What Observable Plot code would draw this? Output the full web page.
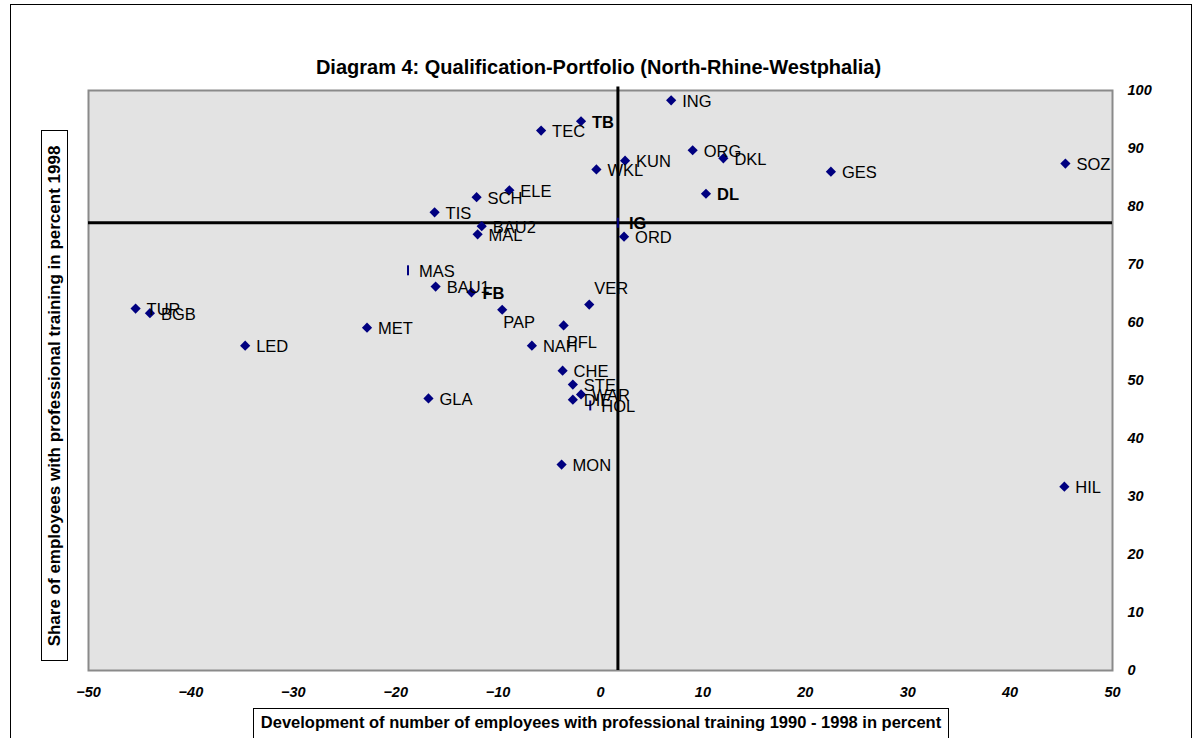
<!DOCTYPE html>
<html>
<head>
<meta charset="utf-8">
<script src="https://cdn.jsdelivr.net/npm/d3@7"></script>
<script src="https://cdn.jsdelivr.net/npm/@observablehq/plot@0.6"></script>
<style>
  body { margin: 0; background: #fff; font-family: "Liberation Sans", Arial, sans-serif; }
  #wrap { position: relative; width: 1197px; height: 738px; overflow: hidden; background: #fff; }
  #border { position: absolute; left: 10px; top: 4px; width: 1182px; height: 760px; border: 1px solid #000; box-sizing: border-box; }
  #chart { position: absolute; left: 0; top: 0; }
  #title { position: absolute; left: 0; top: 56px; width: 1197px; text-align: center; font-weight: bold; font-size: 20px; color: #000; }
  #ylab { position: absolute; left: 41px; top: 130px; width: 27px; height: 531px; border: 1px solid #000; background: #fff; box-sizing: border-box; }
  #ylab span { position: absolute; left: 50%; top: 50%; transform: translate(-50%, -50%) rotate(-90deg); white-space: nowrap; font-weight: bold; font-size: 17px; }
  #xlab { position: absolute; left: 253px; top: 708px; width: 696px; height: 50px; border: 1px solid #000; background: #fff; box-sizing: border-box; text-align: center; font-weight: bold; font-size: 16.5px; line-height: 27px; }
</style>
</head>
<body>
<div id="wrap">
  <div id="border"></div>
  <div id="chart"></div>
  <div id="title">Diagram 4: Qualification-Portfolio (North-Rhine-Westphalia)</div>
  <div id="ylab"><span>Share of employees with professional training in percent 1998</span></div>
  <div id="xlab">Development of number of employees with professional training 1990 - 1998 in percent</div>
</div>
<script>
// ---- data ----
const codes  = ["ING","TB","TEC","KUN","WKL","ORG","DKL","GES","SOZ","DL","ELE","SCH","TIS","BAU2","MAL","IG","ORD","MAS","BAU1","FB","PAP","VER","PFL","NAH","CHE","STE","WAR","DIE","HOL","GLA","MON","HIL","MET","LED","TUR","BGB"];
const growth = [6.9,-1.9,-5.8,2.4,-0.4,9.0,12.0,22.5,45.4,10.3,-8.9,-12.1,-16.2,-11.6,-12.0,1.7,2.3,-18.8,-16.1,-12.6,-9.6,-1.1,-3.6,-6.7,-3.7,-2.7,-1.9,-2.7,-1.0,-16.8,-3.8,45.3,-22.8,-34.7,-45.4,-44.0];
const share  = [98.3,94.7,93.1,87.9,86.4,89.7,88.3,86.0,87.4,82.2,82.8,81.6,79.0,76.6,75.2,77.2,74.8,69.0,66.2,65.2,62.2,63.1,59.5,56.0,51.7,49.3,47.6,46.7,45.7,46.9,35.5,31.7,59.1,56.0,62.4,61.6];
const xTicks = [-50,-40,-30,-20,-10,0,10,20,30,40,50];
const yTicks = [0,10,20,30,40,50,60,70,80,90,100];
const referenceCode = "IG";

// ---- styling config (not data) ----
const boldCodes = new Set(["TB","IG","FB","DL"]);
const thinCodes = new Set(["MAS","HOL","IG"]);
const labelShift = { PAP: [1, 13], VER: [5, -16], PFL: [3, 17] };

const points = codes.map((c, i) => ({ code: c, x: growth[i], y: share[i] }));
const ref = points.find(d => d.code === referenceCode);

const thinBar = { draw(ctx) { ctx.rect(-1, -5, 2, 10); } };

const labelMarks = [];
const plain = points.filter(d => !labelShift[d.code]);
labelMarks.push(Plot.text(plain.filter(d => !boldCodes.has(d.code)), {x: "x", y: "y", text: "code", textAnchor: "start", dx: 11, dy: 1, fontSize: 16.5, fill: "#000"}));
labelMarks.push(Plot.text(plain.filter(d => boldCodes.has(d.code)), {x: "x", y: "y", text: "code", textAnchor: "start", dx: 11, dy: 1, fontSize: 16.5, fontWeight: "bold", fill: "#000"}));
for (const [c, [dx, dy]] of Object.entries(labelShift)) {
  labelMarks.push(Plot.text(points.filter(d => d.code === c), {x: "x", y: "y", text: "code", textAnchor: "start", dx, dy, fontSize: 16.5, fontWeight: boldCodes.has(c) ? "bold" : "normal", fill: "#000"}));
}

const chart = Plot.plot({
  width: 1197,
  height: 738,
  marginTop: 90,
  marginBottom: 68,
  marginLeft: 88,
  marginRight: 85,
  style: { fontFamily: "'Liberation Sans', Arial, sans-serif", background: "transparent", overflow: "visible" },
  x: { domain: [-50, 50], ticks: xTicks, label: null },
  y: { domain: [0, 100], ticks: yTicks, label: null },
  marks: [
    Plot.frame({ fill: "#e3e3e3", stroke: "#8a8a8a", strokeWidth: 2 }),
    Plot.ruleX([ref.x], { stroke: "#000", strokeWidth: 3, y1: 0, y2: 100.6 }),
    Plot.ruleY([ref.y], { stroke: "#000", strokeWidth: 3 }),
    Plot.dot(points.filter(d => !thinCodes.has(d.code)), { x: "x", y: "y", symbol: "diamond2", r: 4.6, fill: "#000080", stroke: "none" }),
    Plot.dot(points.filter(d => thinCodes.has(d.code)), { x: "x", y: "y", symbol: thinBar, r: 4, fill: "#000080", stroke: "none" }),
    ...labelMarks,
    Plot.axisX({ anchor: "bottom", ticks: xTicks, tickSize: 0, tickPadding: 16, fontSize: 14.5, fontWeight: "bold", fontStyle: "italic", fill: "#000", label: null }),
    Plot.axisY({ anchor: "right", ticks: yTicks, tickSize: 0, tickPadding: 15, fontSize: 14.5, fontWeight: "bold", fontStyle: "italic", fill: "#000", label: null })
  ]
});
document.getElementById("chart").appendChild(chart);
</script>
</body>
</html>
